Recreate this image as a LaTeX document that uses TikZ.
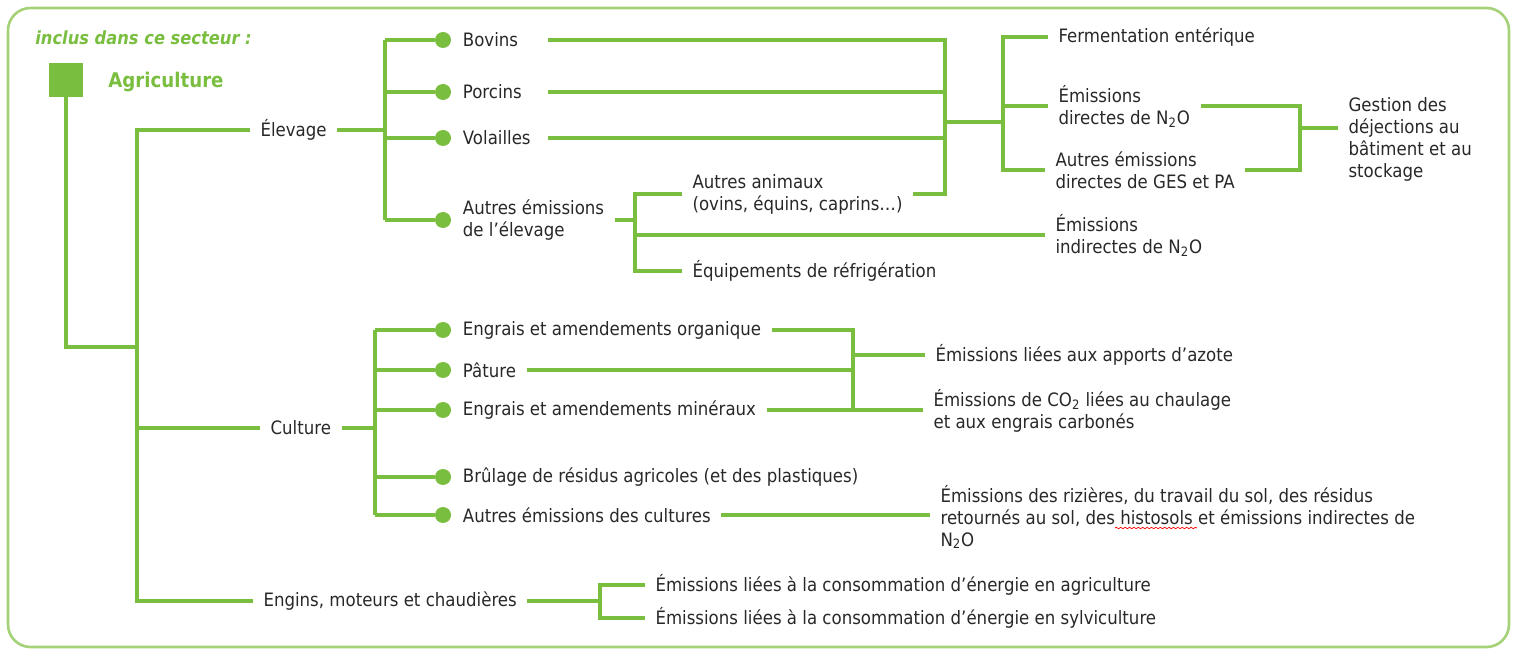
\documentclass[tikz,border=0pt]{standalone}
\usepackage{fontspec}
\setmainfont{DejaVu Sans}[FakeStretch=0.9]
\usepackage{tikz}
\usetikzlibrary{positioning, decorations.pathmorphing}

\definecolor{agri}{RGB}{122,190,64}
\definecolor{cadre}{RGB}{165,210,120}
\definecolor{texte}{RGB}{40,40,40}

\tikzset{
    lien/.style={draw=agri, line width=2pt},
    puce/.style={circle, fill=agri, inner sep=0pt, minimum size=0.32cm},
    etiq/.style={anchor=west, text=texte, align=left, inner sep=0pt, outer xsep=6pt,
                 font=\fontsize{10.5}{12.5}\selectfont},
}

\begin{document}
\begin{tikzpicture}[x=0.02cm, y=-0.02cm]
    \useasboundingbox (0,0) rectangle (1514,651);
    \draw[cadre, line width=1.5pt, rounded corners=0.45cm] (8,8) rectangle (1509,647);

    % titre et secteur
    \node[anchor=west, inner sep=0pt, text=agri, font=\fontsize{10.3}{12}\selectfont\bfseries\itshape] (titre) at (35,38) {inclus dans ce secteur :};
    \node[fill=agri, minimum size=0.68cm, inner sep=0pt] (carre) at (66,80) {};
    \node[anchor=west, inner sep=0pt, text=agri, font=\fontsize{11.5}{14}\selectfont\bfseries] (secteur) at (108,82) {Agriculture};

    % premier niveau
    \coordinate (tronc) at (137,347);
    \node[etiq] (elev) at (250,130) {Élevage};
    \node[etiq] (cult) at (260,428) {Culture};
    \node[etiq] (engi) at (253,601) {Engins, moteurs et chaudières};
    \draw[lien] (carre.south) |- (tronc);
    \draw[lien] (elev.west) -| (tronc |- engi.west) -- (engi.west);
    \draw[lien] (cult.west) -- (tronc |- cult.west);

    % elevage
    \coordinate (vE) at (385,130);
    \node[puce] (pBov) at (443,40) {};
    \node[puce] (pPor) at (443,92) {};
    \node[puce] (pVol) at (443,138) {};
    \node[puce] (pAut) at (443,220) {};
    \node[etiq, right=0.02cm of pBov] (bov) {Bovins};
    \node[etiq, right=0.02cm of pPor] (por) {Porcins};
    \node[etiq, right=0.02cm of pVol] (vol) {Volailles};
    \node[etiq, right=0.02cm of pAut] (autE) {Autres émissions\\de l’élevage};
    \draw[lien] (elev) -- (vE);
    \draw[lien] (vE |- pBov) -- (vE |- pAut);
    \foreach \p in {pBov, pPor, pVol, pAut}
        \draw[lien] (vE |- \p) -- (\p);

    \coordinate (xs) at (548,0);
    \coordinate (jA) at (945,122);
    \coordinate (vA) at (635,220);
    \node[etiq] (autA) at (682,194) {Autres animaux\\(ovins, équins, caprins…)};
    \node[etiq] (indi) at (1045,235) {Émissions\\indirectes de N\textsubscript{2}O};
    \node[etiq] (equi) at (682,271) {Équipements de réfrigération};
    \draw[lien] (bov -| xs) -| (jA |- autA.east) -- (autA.east);
    \draw[lien] (por -| xs) -- (por -| jA);
    \draw[lien] (vol -| xs) -- (vol -| jA);
    \draw[lien] (autE) -- (vA);
    \draw[lien] (autA.west) -| (vA |- equi.west) -- (equi.west);
    \draw[lien] (vA |- indi.west) -- (indi.west);

    \coordinate (jB) at (1003,122);
    \coordinate (jC) at (1300,128);
    \node[etiq] (ferm) at (1048,37) {Fermentation entérique};
    \node[etiq] (dirN) at (1048,106) {Émissions\\directes de N\textsubscript{2}O};
    \node[etiq] (autD) at (1045,170) {Autres émissions\\directes de GES et PA};
    \node[etiq] (gest) at (1338,139) {Gestion des\\déjections au\\bâtiment et au\\stockage};
    \draw[lien] (jA) -- (jB);
    \draw[lien] (ferm.west) -| (jB |- autD.west) -- (autD.west);
    \draw[lien] (jB |- dirN.west) -- (dirN.west);
    \draw[lien] (dirN.east) -| (jC |- autD.east) -- (autD.east);
    \draw[lien] (jC) -- (gest.west |- jC);

    % culture
    \coordinate (vC) at (375,428);
    \node[puce] (pOrg) at (443,330) {};
    \node[puce] (pPat) at (443,370) {};
    \node[puce] (pMin) at (443,410) {};
    \node[puce] (pBru) at (443,477) {};
    \node[puce] (pAcu) at (443,515) {};
    \node[etiq, right=0.02cm of pOrg] (org) {Engrais et amendements organique};
    \node[etiq, right=0.02cm of pPat] (pat) {Pâture};
    \node[etiq, right=0.02cm of pMin] (min) {Engrais et amendements minéraux};
    \node[etiq, right=0.02cm of pBru] (bru) {Brûlage de résidus agricoles (et des plastiques)};
    \node[etiq, right=0.02cm of pAcu] (acu) {Autres émissions des cultures};
    \draw[lien] (cult) -- (vC);
    \draw[lien] (vC |- pOrg) -- (vC |- pAcu);
    \foreach \p in {pOrg, pPat, pMin, pBru, pAcu}
        \draw[lien] (vC |- \p) -- (\p);

    \coordinate (jD) at (853,355);
    \node[etiq] (azo) at (925,355) {Émissions liées aux apports d’azote};
    \node[etiq] (co2) at (923,411) {Émissions de CO\textsubscript{2} liées au chaulage\\et aux engrais carbonés};
    \node[etiq] (riz) at (930,517) {Émissions des rizières, du travail du sol, des résidus\\retournés au sol, des histosols et émissions indirectes de\\N\textsubscript{2}O};
    \draw[lien] (org.east) -| (jD |- min.east);
    \draw[lien] (pat) -- (pat -| jD);
    \draw[lien] (min.east) -- (min.east -| co2.west);
    \draw[lien] (jD) -- (azo.west |- jD);
    \draw[lien] (acu) -- (acu -| riz.west);
    \draw[red, decorate, decoration={snake, amplitude=0.4pt, segment length=2.5pt}] (1115,528) -- (1197,528);

    % engins
    \coordinate (vG) at (600,601);
    \node[etiq] (enA) at (645,585) {Émissions liées à la consommation d’énergie en agriculture};
    \node[etiq] (enS) at (645,618) {Émissions liées à la consommation d’énergie en sylviculture};
    \draw[lien] (engi) -- (vG);
    \draw[lien] (enA.west) -| (vG |- enS.west) -- (enS.west);
\end{tikzpicture}
\end{document}
